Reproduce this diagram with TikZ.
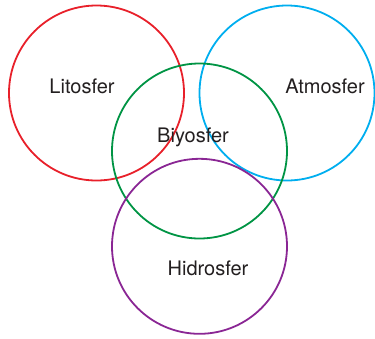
\documentclass[tikz,border=0pt]{standalone}
\usepackage{fontspec}
\setmainfont{TeX Gyre Heros}
\definecolor{cred}{RGB}{232,32,42}
\definecolor{cblue}{RGB}{0,174,239}
\definecolor{cgreen}{RGB}{0,148,68}
\definecolor{cpurple}{RGB}{138,38,148}
\definecolor{txt}{RGB}{35,31,32}
\begin{document}
\begin{tikzpicture}[x=1pt,y=-1pt,
  ring/.style={circle, draw, line width=1.8pt, minimum size=175pt, inner sep=0pt},
  lbl/.style={font=\fontsize{20}{24}\selectfont, text=txt, anchor=base, inner sep=0pt}]
\useasboundingbox (0,0) rectangle (375,338);
\node[ring, draw=cred] (lito) at (96.5,93) {};
\node[ring, draw=cblue] (atmo) at (287,93) {};
\node[ring, draw=cgreen] (biyo) at (199.5,151) {};
\node[ring, draw=cpurple] (hidro) at (199.5,246.3) {};
\node[lbl] (tlito) at (82,93.3) {Litosfer};
\node[lbl] (tatmo) at (325,93.3) {Atmosfer};
\node[lbl] (tbiyo) at (193,142) {Biyosfer};
\node[lbl] (thidro) at (208,275.3) {Hidrosfer};
\end{tikzpicture}
\end{document}
